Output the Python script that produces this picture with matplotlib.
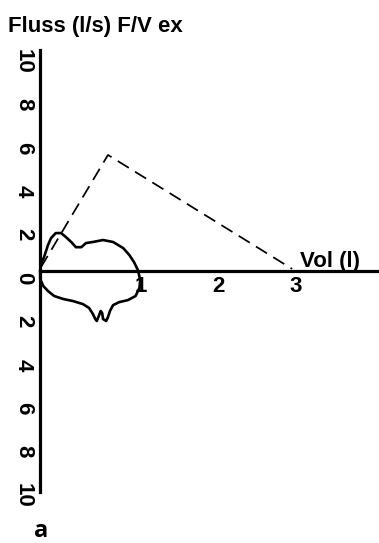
import numpy as np
import matplotlib
matplotlib.use("Agg")
from matplotlib import pyplot as plt
from matplotlib.transforms import ScaledTranslation

plt.rcParams['font.family'] = ['Liberation Sans', 'DejaVu Sans']
plt.rcParams['font.weight'] = 'bold'

# gemessene Schleife (Volumen l, Fluss l/s)
loop_vol = [-0.30, -0.29, -0.25, -0.20, -0.16, -0.10, -0.03, 0.03, 0.10, 0.16,
            0.23, 0.29, 0.38, 0.51, 0.64, 0.77, 0.85, 0.91, 0.96, 0.99, 0.98,
            0.93, 0.83, 0.72, 0.64, 0.60, 0.57, 0.55, 0.51, 0.50, 0.48, 0.46,
            0.43, 0.41, 0.38, 0.33, 0.25, 0.12, 0.0, -0.12, -0.20, -0.26, -0.30, -0.30]
loop_flow = [0.05, 0.32, 0.65, 1.20, 1.52, 1.75, 1.75, 1.57, 1.34, 1.10, 1.10,
             1.29, 1.34, 1.43, 1.34, 1.06, 0.74, 0.41, 0.05, -0.41, -0.78,
             -1.15, -1.34, -1.43, -1.57, -1.84, -2.16, -2.30, -2.21, -1.94, -1.84,
             -2.03, -2.30, -2.21, -1.98, -1.70, -1.52, -1.38, -1.29, -1.15,
             -0.92, -0.69, -0.37, -0.05]

# Sollkurve (gestrichelt)
soll_vol = [-0.29, 0.574, 2.95]
soll_flow = [0.18, 5.35, 0.1]

y_ticks = [10, 8, 6, 4, 2, 0, -2, -4, -6, -8, -10]
x_ticks = [1, 2, 3]
y_achse = -0.3

fig = plt.figure(figsize=(3.79, 5.43), dpi=100)
ax = fig.add_axes([0, 0, 1, 1])
ax.set_xlim(-0.819, 4.071)
ax.set_ylim(-12.53, 12.49)

ax.plot(loop_vol, loop_flow, color='black', lw=1.9, solid_joinstyle='round')
ax.plot(soll_vol, soll_flow, color='black', lw=1.25, linestyle=(0, (7.5, 4.2)))

for s in ['top', 'right']:
    ax.spines[s].set_visible(False)
ax.spines['left'].set_position(('data', y_achse))
ax.spines['bottom'].set_position(('data', 0))
ax.spines['left'].set_bounds(-10.2, 10.2)
ax.spines['bottom'].set_bounds(y_achse, 4.071)
ax.spines['left'].set_linewidth(2.3)
ax.spines['bottom'].set_linewidth(2.3)

ax.set_yticks(y_ticks)
ax.set_yticklabels([str(abs(v)) for v in y_ticks], rotation=-90, va='center')
ax.set_xticks(x_ticks)
ax.set_xticklabels([str(v) for v in x_ticks])
ax.tick_params(axis='both', length=0, labelsize=16)
ax.tick_params(axis='y', pad=4.5)
ax.tick_params(axis='x', pad=3.5)
off = ScaledTranslation(0, -7 / 100, fig.dpi_scale_trans)
for lab in ax.get_yticklabels():
    lab.set_transform(lab.get_transform() + off)

fig.text(8 / 379, 1 - 32 / 543, 'Fluss (l/s) F/V ex', fontsize=16,
         fontweight='bold', va='baseline', ha='left')
fig.text(300 / 379, 1 - 267 / 543, 'Vol (l)', fontsize=16,
         fontweight='bold', va='baseline', ha='left')
fig.text(34 / 379, 1 - 537 / 543, 'a', fontsize=17, fontweight='bold',
         family=['Open Sans', 'DejaVu Sans'], va='baseline', ha='left')

fig.savefig('out.png', dpi=100)
